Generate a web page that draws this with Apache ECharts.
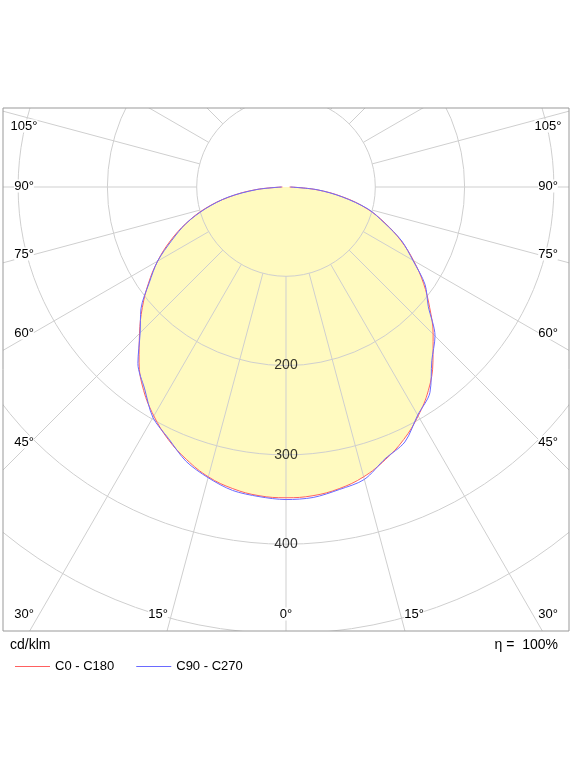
<!DOCTYPE html>
<html>
<head>
<meta charset="utf-8">
<script src="https://cdn.jsdelivr.net/npm/echarts@6/dist/echarts.min.js"></script>
<style>
  html, body { margin: 0; padding: 0; background: #fff; }
  #chart { width: 583px; height: 777px; }
</style>
</head>
<body>
<div id="chart"></div>
<script>
// gamma angles (deg) and intensities (cd/klm)
var gammaAngles = [0, 5, 10, 15, 20, 25, 30, 35, 40, 45, 50, 55, 60, 65, 70, 75, 80, 85, 90]
var c0Values = [348, 347, 343, 336, 325, 312, 296, 278, 256, 233, 210, 188, 165, 142, 118, 94, 65, 34, 4]
var c180Values = [348, 347, 343, 336, 325, 312, 296, 278, 256, 232, 210, 188, 166, 143, 119, 94, 65, 34, 4]
var c90Values = [350, 349, 344, 339, 324, 315, 295, 281, 254, 236, 208, 190, 164, 143, 117, 95, 64, 35, 5]
var c270Values = [350, 348, 345, 337, 327, 311, 298, 276, 258, 231, 212, 187, 166, 141, 119, 93, 66, 33, 5]
var ringValues = [200, 300, 400]
var spokeAngles = [0, 15, 30, 45, 60, 75, 90, 105, 120, 135, 150, 165, 180]
var sideLabels = ['105°', '90°', '75°', '60°', '45°', '30°']
var bottomLabels = ['30°', '15°', '0°', '15°', '30°']

var center = [286, 187]
var pxPer100 = 89.3
var rMax = 700

function side (vals, right) {
  return gammaAngles.map((g, i) => [vals[i], right ? g : 360 - g])
}
function fullCurve (rightVals, leftVals) {
  var r = side(rightVals, true)
  var l = side(leftVals, false).reverse()
  return l.concat(r.slice(1))
}

var spokes = []
spokeAngles.forEach(a => {
  spokes.push([100, a], [rMax, a], '-')
  if (a !== 0 && a !== 180) spokes.push([100, 360 - a], [rMax, 360 - a], '-')
})

var red = fullCurve(c0Values, c180Values)
var blue = fullCurve(c90Values, c270Values)

var sideY = [126, 186, 254, 333, 442, 614]
var bottomX = [24, 158, 286, 414, 548]
var font = 'Arial, "Liberation Sans", sans-serif'

var graphics = [
  { type: 'rect', z: 100, shape: { x: 0, y: 0, width: 583, height: 108 }, style: { fill: '#fff' } },
  { type: 'rect', z: 100, shape: { x: 0, y: 631, width: 583, height: 146 }, style: { fill: '#fff' } },
  { type: 'rect', z: 100, shape: { x: 0, y: 0, width: 3, height: 777 }, style: { fill: '#fff' } },
  { type: 'rect', z: 100, shape: { x: 569, y: 0, width: 14, height: 777 }, style: { fill: '#fff' } },
  { type: 'rect', z: 101, shape: { x: 3, y: 108, width: 566, height: 523 }, style: { fill: null, stroke: '#999', lineWidth: 1 } },
  { type: 'text', z: 102, x: 10, y: 645, style: { text: 'cd/klm', font: '14px ' + font, fill: '#000', textVerticalAlign: 'middle' } },
  { type: 'text', z: 102, x: 558, y: 645, style: { text: 'η =  100%', font: '14px ' + font, fill: '#000', textAlign: 'right', textVerticalAlign: 'middle' } }
]
sideLabels.forEach((t, i) => {
  if (i === 5) return
  graphics.push({ type: 'text', z: 102, x: 24, y: sideY[i], style: { text: t, font: '13px ' + font, fill: '#000', textAlign: 'center', textVerticalAlign: 'middle', backgroundColor: '#fff' } })
  graphics.push({ type: 'text', z: 102, x: 548, y: sideY[i], style: { text: t, font: '13px ' + font, fill: '#000', textAlign: 'center', textVerticalAlign: 'middle', backgroundColor: '#fff' } })
})
bottomLabels.forEach((t, i) => {
  graphics.push({ type: 'text', z: 102, x: bottomX[i], y: 614, style: { text: t, font: '13px ' + font, fill: '#000', textAlign: 'center', textVerticalAlign: 'middle', backgroundColor: '#fff' } })
})

var chart = echarts.init(document.getElementById('chart'))
chart.setOption({
  animation: false,
  polar: { center: center, radius: pxPer100 * rMax / 100 },
  angleAxis: {
    type: 'value', min: 0, max: 360, startAngle: -90, clockwise: false,
    axisLine: { show: false }, axisTick: { show: false }, axisLabel: { show: false },
    splitLine: { show: false }
  },
  radiusAxis: {
    type: 'value', min: 0, max: rMax, interval: 100,
    axisLine: { show: false }, axisTick: { show: false }, axisLabel: { show: false },
    splitLine: { show: true, lineStyle: { color: '#cfcfcf', width: 1 } }, z: 3
  },
  legend: {
    left: 10, top: 655, itemWidth: 35, itemHeight: 1, itemGap: 22, z: 110,
    icon: 'rect',
    textStyle: { fontFamily: font, fontSize: 13, color: '#000' },
    data: ['C0 - C180', 'C90 - C270']
  },
  graphic: graphics,
  series: [
    {
      type: 'line', coordinateSystem: 'polar', data: red, symbol: 'none', silent: true, smooth: 0.4,
      lineStyle: { width: 0 }, areaStyle: { color: '#fffac0', opacity: 1 }, z: 1
    },
    {
      type: 'line', coordinateSystem: 'polar', data: spokes, symbol: 'none', silent: true,
      connectNulls: false, lineStyle: { color: '#cfcfcf', width: 1 }, z: 4
    },
    {
      name: 'C0 - C180', type: 'line', coordinateSystem: 'polar', data: red, symbol: 'none', smooth: 0.4,
      color: '#ff6060', lineStyle: { color: '#ff6060', width: 1 }, z: 6
    },
    {
      name: 'C90 - C270', type: 'line', coordinateSystem: 'polar', data: blue, symbol: 'none', smooth: 0.3,
      color: '#6a6aff', lineStyle: { color: '#6a6aff', width: 1 }, z: 7
    },
    {
      type: 'scatter', coordinateSystem: 'polar', symbolSize: 0, silent: true, z: 8,
      data: ringValues.map(v => [v, 0]),
      label: { show: true, position: 'inside', formatter: p => p.value[0], fontFamily: font, fontSize: 14, color: '#000', textBorderWidth: 0 }
    }
  ]
})
</script>
</body>
</html>
